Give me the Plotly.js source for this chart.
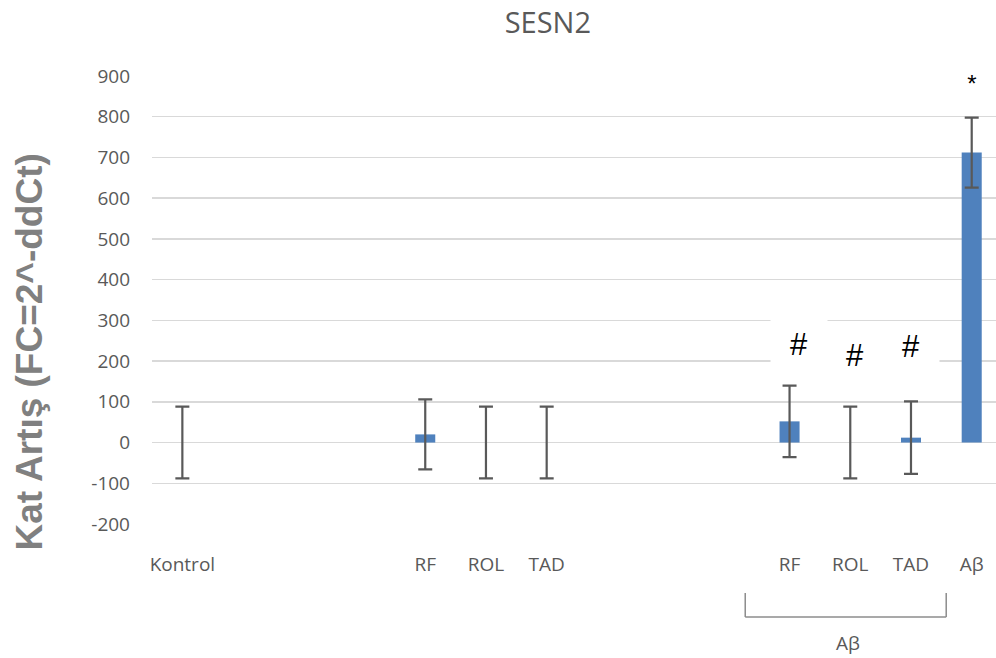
<!DOCTYPE html>
<html>
<head>
<meta charset="utf-8">
<script src="https://cdn.plot.ly/plotly-3.0.1.min.js"></script>
<style>html,body{margin:0;padding:0;background:#fff;}#chart{width:996px;height:658px;}</style>
</head>
<body>
<div id="chart"></div>
<script>
// Data
const groups = [
  ['Kontrol'],
  ['RF', 'ROL', 'TAD'],
  ['RF', 'ROL', 'TAD', 'Aβ']
];
const values = [0, 20, 0, 0, 52, 0, 12, 712];
const errors = [88, 86, 88, 88, 88, 88, 89, 86];
const markTexts = ['', '', '', '', '#', '#', '#', '*'];
const markHeights = [0, 0, 0, 0, 243, 214, 236, 882];
const bracketLabel = 'Aβ';
const yTicks = [-200, -100, 0, 100, 200, 300, 400, 500, 600, 700, 800, 900];
const yTickText = ['-200', '-100', '0', '100', '200', '300', '400', '500', '600', '700', '800', '900'];

// Build slot positions: groups separated by 3 empty slots
const GAP = 3;
const labels = [];
const slots = [];
let s = 0;
groups.forEach((g, gi) => {
  if (gi > 0) s += GAP;
  g.forEach(l => { labels.push(l); slots.push(s); s += 1; });
});

const tickColor = '#595959';
const trace = {
  type: 'bar',
  x: slots,
  y: values,
  width: 0.33,
  marker: {color: '#4f81bd', line: {width: 0}},
  error_y: {type: 'data', array: errors, visible: true, color: '#595959', thickness: 2.2, width: 7},
  hoverinfo: 'none'
};

const annotations = [];
const markShift = [0, 0, 0, 0, 9, 5, 0, 0];
labels.forEach((l, i) => {
  if (!markTexts[i]) return;
  const isStar = markTexts[i] === '*';
  annotations.push({
    x: slots[i], y: markHeights[i], xref: 'x', yref: 'y',
    text: markTexts[i], showarrow: false,
    xshift: markShift[i],
    font: {family: 'Liberation Sans, Arial, sans-serif', size: isStar ? 24 : 31, color: '#000'},
    bgcolor: '#ffffff', borderpad: 0,
    width: isStar ? 44 : 56, height: isStar ? 20 : (i === 4 ? 48 : 36),
    xanchor: 'center', yanchor: 'middle'
  });
});
// y-axis title
annotations.push({
  xref: 'paper', yref: 'paper', x: -0.145, y: 0.384,
  text: 'Kat Artış (FC=2^-ddCt)', textangle: -90, showarrow: false,
  font: {family: 'Liberation Sans, Arial, sans-serif', size: 37, color: '#808080', weight: 'bold'},
  xanchor: 'center', yanchor: 'middle'
});
// bracket label
annotations.push({
  xref: 'x', yref: 'paper', x: 10.96, y: -0.2656,
  text: bracketLabel, showarrow: false,
  font: {family: 'Open Sans, sans-serif', size: 19, color: tickColor},
  xanchor: 'center', yanchor: 'middle'
});

const bx0 = 9.27, bx1 = 12.58, byTop = -0.154, byBot = -0.2076;
const lineStyle = {color: '#8c8c8c', width: 1.5};
const shapes = [
  {type: 'line', xref: 'x', yref: 'paper', x0: bx0, x1: bx0, y0: byTop, y1: byBot, line: lineStyle},
  {type: 'line', xref: 'x', yref: 'paper', x0: bx1, x1: bx1, y0: byTop, y1: byBot, line: lineStyle},
  {type: 'line', xref: 'x', yref: 'paper', x0: bx0, x1: bx1, y0: byBot, y1: byBot, line: lineStyle}
];

const layout = {
  width: 996, height: 658,
  margin: {l: 152, r: 0, t: 76, b: 134},
  paper_bgcolor: '#ffffff', plot_bgcolor: '#ffffff',
  showlegend: false,
  title: {
    text: 'SESN2', xref: 'container', yref: 'container', x: 0.55, y: 0.966,
    xanchor: 'center', yanchor: 'middle',
    font: {family: 'Open Sans, sans-serif', size: 29, color: tickColor}
  },
  xaxis: {
    range: [-0.5, 13.4], tickmode: 'array', tickvals: slots, ticktext: labels,
    showgrid: false, zeroline: false, showline: false, ticks: '',
    ticklabelstandoff: 27,
    tickfont: {family: 'Open Sans, sans-serif', size: 19, color: tickColor}
  },
  yaxis: {
    range: [-200, 900], tickmode: 'array', tickvals: yTicks, ticktext: yTickText,
    showgrid: true, gridcolor: '#d9d9d9', gridwidth: 1.5,
    zeroline: false, showline: false, ticks: '',
    ticklabelstandoff: 21,
    tickfont: {family: 'Open Sans, sans-serif', size: 19, color: tickColor}
  },
  annotations: annotations,
  shapes: shapes
};

Plotly.newPlot('chart', [trace], layout, {displayModeBar: false, staticPlot: true});
</script>
</body>
</html>
